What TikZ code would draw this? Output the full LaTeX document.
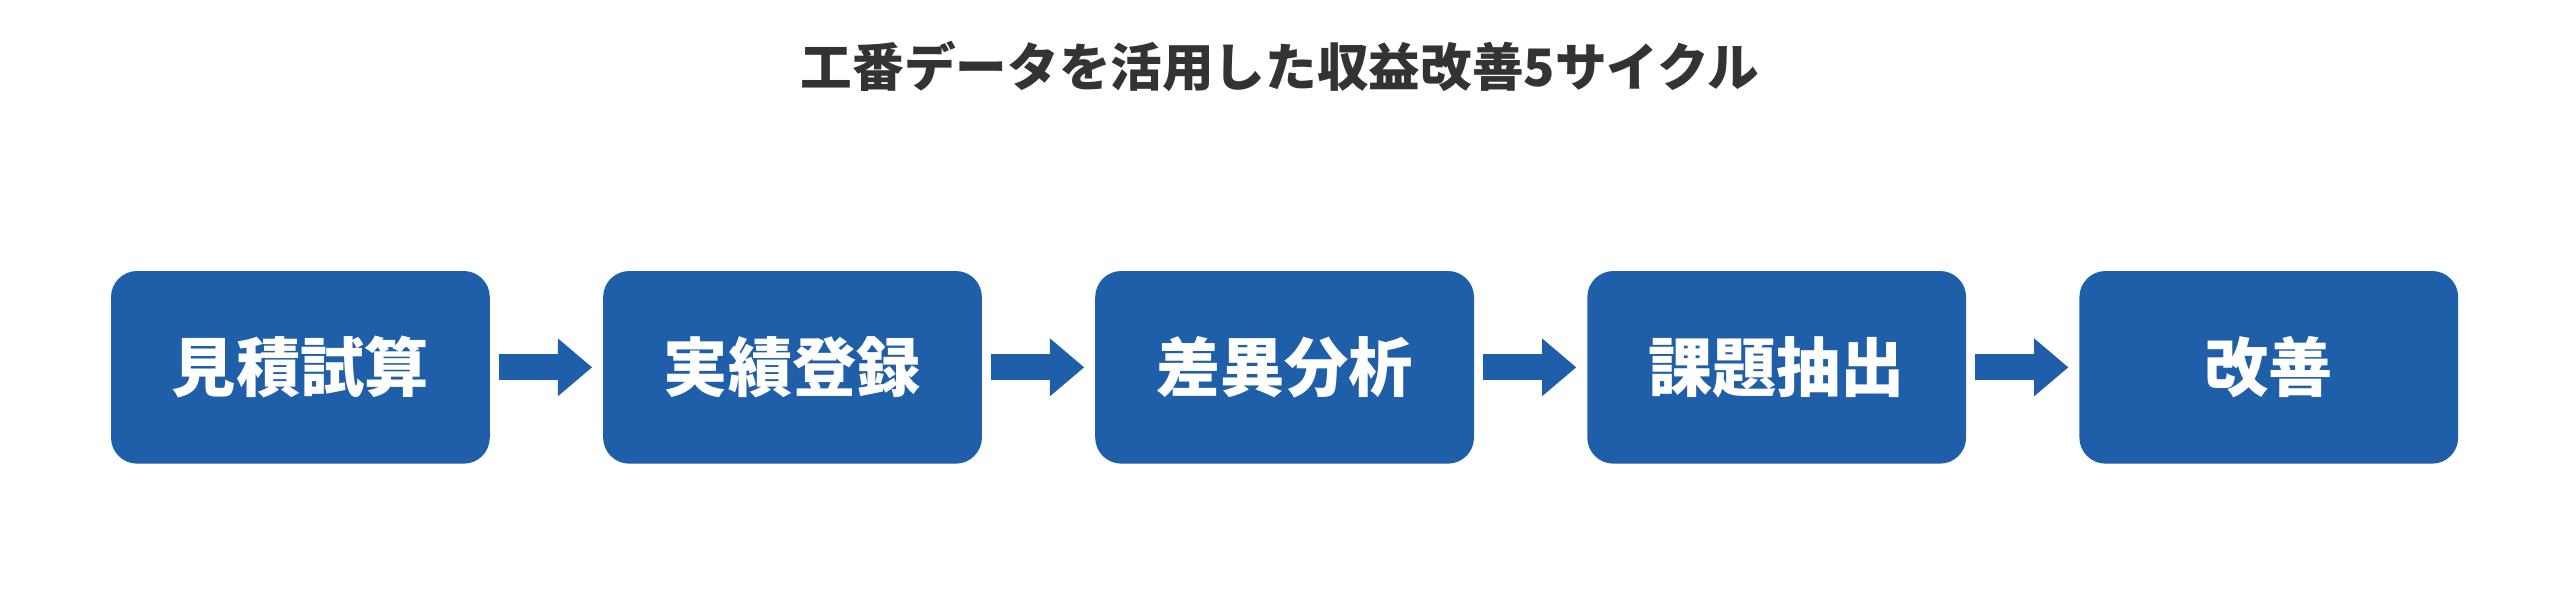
\documentclass[tikz,border=0pt]{standalone}
\usepackage{fontspec}
\setmainfont{Noto Sans CJK JP}
\usetikzlibrary{arrows.meta,positioning}
\definecolor{boxblue}{HTML}{1F5EA8}
\definecolor{titlegray}{HTML}{333333}
\tikzset{
	stage/.style={fill=boxblue,rounded corners=0.16cm,minimum width=2.32cm,minimum height=1.18cm,text=white,font=\fontsize{11.2}{13}\selectfont\bfseries,inner sep=0pt},
	flow/.style={boxblue,line width=0.16cm,-{Triangle[length=0.21cm,width=0.34cm]},shorten <=0.05cm,shorten >=0.06cm}
}
\begin{document}
\begin{tikzpicture}
	\useasboundingbox (0,0) rectangle (15.68,3.724);
	\node[font=\fontsize{9}{11}\selectfont\bfseries,text=titlegray] (title) at (7.84,3.32) {工番データを活用した収益改善5サイクル};
	\node[stage] (s1) at (1.84,1.474) {見積試算};
	\node[stage,right=0.68cm of s1] (s2) {実績登録};
	\node[stage,right=0.68cm of s2] (s3) {差異分析};
	\node[stage,right=0.68cm of s3] (s4) {課題抽出};
	\node[stage,right=0.68cm of s4] (s5) {改善};
	\draw[flow] (s1) -- (s2);
	\draw[flow] (s2) -- (s3);
	\draw[flow] (s3) -- (s4);
	\draw[flow] (s4) -- (s5);
\end{tikzpicture}
\end{document}
